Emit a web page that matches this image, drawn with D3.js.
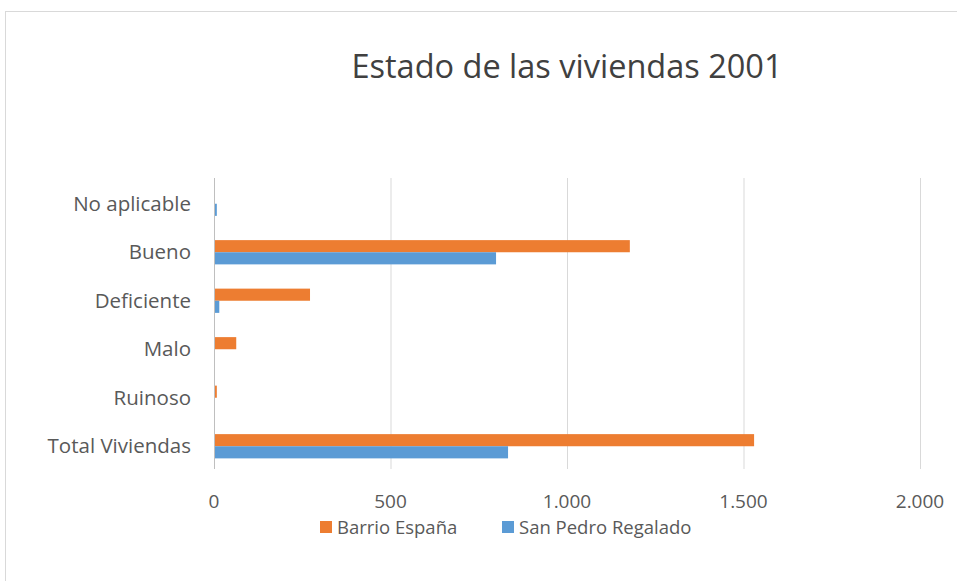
<!DOCTYPE html>
<html><head><meta charset="utf-8">
<script src="https://cdn.jsdelivr.net/npm/d3@7"></script>
<style>body{margin:0;background:#fff}svg{display:block}</style>
</head><body>
<script>
const categories = ["No aplicable","Bueno","Deficiente","Malo","Ruinoso","Total Viviendas"];
const seriesNames = ["Barrio España","San Pedro Regalado"];
const barrioEspana = [0, 1178, 272, 63, 8, 1530];
const sanPedro = [8, 799, 15, 0, 0, 833];
const tickValues = [0, 500, 1000, 1500, 2000];
const tickLabels = ["0","500","1.000","1.500","2.000"];
const colors = ["#ED7D31","#5B9BD5"];

const W = 957, H = 581;
const svg = d3.select("body").append("svg").attr("width", W).attr("height", H);
const font = "'Open Sans', sans-serif";

svg.append("rect").attr("x",5.5).attr("y",11.5).attr("width",1200).attr("height",1200)
  .attr("fill","none").attr("stroke","#d9d9d9");

const x = d3.scaleLinear().domain([0,2000]).range([214,920]);
const y = d3.scaleBand().domain(categories).range([179.5,470.5]).paddingInner(0.5).paddingOuter(0.25);
const sub = d3.scaleBand().domain(seriesNames).range([0,y.bandwidth()]);

// gridlines
svg.append("g").selectAll("line").data(tickValues.slice(1)).join("line")
  .attr("x1",d=>x(d)+0.5).attr("x2",d=>x(d)+0.5).attr("y1",178).attr("y2",469)
  .attr("stroke","#d9d9d9").attr("stroke-width",1);

const data = [barrioEspana, sanPedro];
data.forEach((vals,si)=>{
  svg.append("g").selectAll("rect").data(categories).join("rect")
    .attr("x", x(0)).attr("y",(c)=>y(c)+sub(seriesNames[si]))
    .attr("width",(c,i)=>x(vals[i])-x(0)).attr("height",sub.bandwidth())
    .attr("fill",colors[si]);
});

// zero axis line
svg.append("line").attr("x1",x(0)+0.5).attr("x2",x(0)+0.5).attr("y1",178).attr("y2",469)
  .attr("stroke","#bfbfbf");

// x tick labels
svg.append("g").selectAll("text").data(tickValues).join("text")
  .attr("x",d=>x(d)).attr("y",508).attr("text-anchor","middle")
  .attr("font-family",font).attr("font-size",19).attr("fill","#595959")
  .text((d,i)=>tickLabels[i]);

// category labels
svg.append("g").selectAll("text").data(categories).join("text")
  .attr("x",191).attr("y",c=>y(c)+y.bandwidth()/2).attr("dy","0.33em").attr("text-anchor","end")
  .attr("font-family",font).attr("font-size",20.5).attr("fill","#595959")
  .text(c=>c);

// title
svg.append("text").attr("x",567).attr("y",78).attr("text-anchor","middle")
  .attr("font-family",font).attr("font-size",32.5).attr("fill","#404040")
  .text("Estado de las viviendas 2001");

// legend
const legX = [320, 502];
seriesNames.forEach((s,i)=>{
  svg.append("rect").attr("x",legX[i]).attr("y",521).attr("width",12).attr("height",12).attr("fill",colors[i]);
  svg.append("text").attr("x",legX[i]+17).attr("y",534).attr("font-family",font).attr("font-size",18.5)
    .attr("fill","#595959").text(s);
});
</script>
</body></html>
